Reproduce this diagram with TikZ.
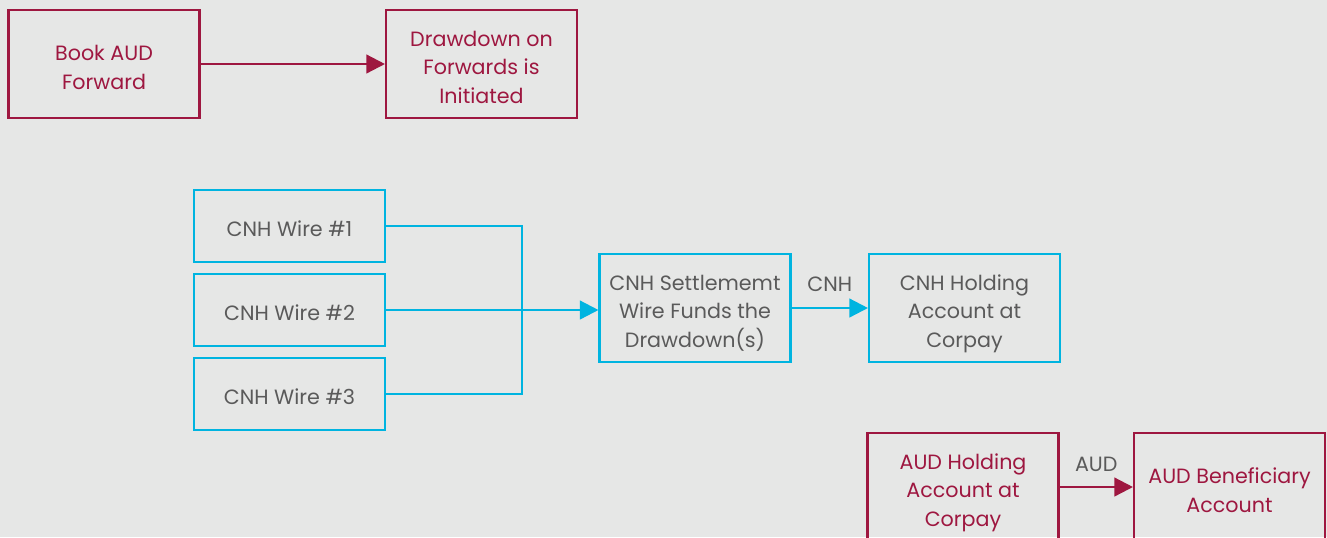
\documentclass[tikz,border=0pt]{standalone}
\usepackage{fontspec}
\setmainfont{Poppins}
\usepackage{tikz}
\usetikzlibrary{arrows.meta}
\usetikzlibrary{positioning}

\definecolor{bgGray}{HTML}{E6E7E6}
\definecolor{wine}{HTML}{9E1740}
\definecolor{skyBlue}{HTML}{00B4E0}
\definecolor{textGray}{HTML}{5A5A5A}

% extra room above the first line of a box
\newcommand{\topgap}{\rule{0pt}{16pt}}

\begin{document}
\begin{tikzpicture}[x=0.75pt, y=-0.75pt,
        box/.style={rectangle, line width=1.8pt, minimum width=143pt, minimum height=81pt,
            align=center, font=\fontsize{15.5}{21.5}\selectfont, text depth=0pt},
        audbox/.style={box, draw=wine, text=wine},
        cnhbox/.style={box, draw=skyBlue, text=textGray},
        wirebox/.style={cnhbox, minimum height=54pt},
        flow/.style={line width=1.8pt, -{Triangle[length=14pt, width=14pt]}},
        tag/.style={text=textGray, font=\fontsize{15.5}{17}\selectfont}]
    \useasboundingbox[fill=bgGray] (0, 0) rectangle (1327, 537);

    % top row
    \node[audbox] (book) at (104, 64) {\topgap Book AUD\\Forward};
    \node[audbox] (drawdown) at (481.5, 64) {\topgap Drawdown on\\Forwards is\\Initiated};
    \draw[flow, wine] (book) -- (drawdown);

    % CNH wires
    \foreach \y[count=\i from 1] in {226, 310, 394}
    {
        \node[wirebox] (wire\i) at (289.5, \y) {\topgap CNH Wire \#\i};
    }
    \coordinate (join) at (522, 310);
    \node[cnhbox] (settle) at (695, 308) {\topgap CNH Settlememt\\Wire Funds the\\Drawdown(s)};
    \node[cnhbox] (cnhhold) at (964.5, 308) {\topgap CNH Holding\\Account at\\Corpay};
    \draw[line width=1.8pt, skyBlue] (wire1.east) -| (join);
    \draw[line width=1.8pt, skyBlue] (wire3.east) -| (join);
    \draw[flow, skyBlue] (wire2.east) -- (wire2.east -| settle.west);
    \draw[flow, skyBlue] (settle.east |- cnhhold) -- node[tag, above=8pt] {CNH} (cnhhold);

    % AUD payout
    \node[audbox] (audhold) at (963, 487) {\topgap AUD Holding\\Account at\\Corpay};
    \node[audbox] (audbene) at (1229.5, 487) {\topgap AUD Beneficiary\\Account};
    \draw[flow, wine] (audhold) -- node[tag, above=7pt] {AUD} (audbene);
\end{tikzpicture}
\end{document}
